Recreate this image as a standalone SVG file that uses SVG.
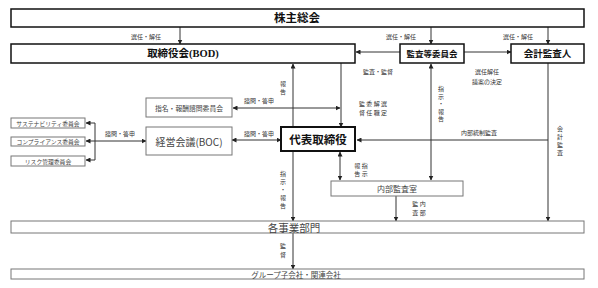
<svg xmlns="http://www.w3.org/2000/svg" width="598" height="288" viewBox="0 0 598 288">
<defs>
<marker id="ah" viewBox="0 0 10 10" refX="9" refY="5" markerWidth="5" markerHeight="5" orient="auto-start-reverse" markerUnits="userSpaceOnUse">
<path d="M0,0 L10,5 L0,10 Z" fill="#222"/>
</marker>
<style>
text{font-family:"Noto Sans CJK JP","Noto Sans",sans-serif;}
.main{fill:#fff;stroke:#111;stroke-width:1.5;}
.rep{fill:#fff;stroke:#111;stroke-width:2;}
.sub{fill:#fff;stroke:#777;stroke-width:1;}
.tb{font-family:"Liberation Serif","Noto Sans CJK JP",serif;font-weight:bold;fill:#111;text-anchor:middle;dominant-baseline:central;}
.tg{fill:#444;text-anchor:middle;dominant-baseline:central;}
.lb{font-size:6px;fill:#333;text-anchor:middle;dominant-baseline:central;}
.c{fill:none;stroke:#333;stroke-width:1;}
.e{marker-end:url(#ah);}
.b{marker-start:url(#ah);marker-end:url(#ah);}
</style>
</defs>
<rect width="598" height="288" fill="#fff"/>

<g id="connectors">
<path class="c e" d="M180,27 V44"/>
<path class="c e" d="M431,27 V44"/>
<path class="c e" d="M548,27 V44"/>
<path class="c e" d="M400,52 H356"/>
<path class="c e" d="M464,52 H511"/>
<path class="c e" d="M341,63 V127"/>
<path class="c e" d="M293,127 V64"/>
<path class="c b" d="M233,108 H340"/>
<path class="c b" d="M232,140 H281"/>
<path class="c b" d="M86,141 H146"/>
<path class="c" d="M95,123 V160"/>
<path class="c e" d="M95,123 H86"/>
<path class="c e" d="M95,160 H86"/>
<path class="c e" d="M293,152 V221"/>
<path class="c b" d="M340,152 V180"/>
<path class="c e" d="M396,196 V221"/>
<path class="c b" d="M431,64 V180"/>
<path class="c e" d="M548,63 V221"/>
<path class="c e" d="M548,140 H357"/>
<path class="c e" d="M293,233 V269"/>

<text class="lb" x="146" y="36">選任・解任</text>
<text class="lb" x="401" y="36">選任・解任</text>
<text class="lb" x="518" y="36">選任・解任</text>
<text class="lb" x="378" y="71">監査・監督</text>
<text class="lb" x="487" y="71">選任解任</text>
<text class="lb" x="487" y="81">議案の決定</text>
<text class="lb"><tspan x="283" y="83">報</tspan><tspan x="283" y="91">告</tspan></text>
<text class="lb" x="259" y="100">諮問・答申</text>
<text class="lb" x="259" y="133">諮問・答申</text>
<text class="lb" x="120" y="133">諮問・答申</text>
<text class="lb" x="373" y="103">監 委 解 選</text>
<text class="lb" x="373" y="112">督 任 職 定</text>
<text class="lb"><tspan x="441" y="88">指</tspan><tspan x="441" y="95.5">示</tspan><tspan x="441" y="103">・</tspan><tspan x="441" y="110.5">報</tspan><tspan x="441" y="118">告</tspan></text>
<text class="lb" x="479" y="132">内部統制監査</text>
<text class="lb"><tspan x="560" y="128">会</tspan><tspan x="560" y="136">計</tspan><tspan x="560" y="144">監</tspan><tspan x="560" y="152">査</tspan></text>
<text class="lb"><tspan x="283" y="173">指</tspan><tspan x="283" y="181">示</tspan><tspan x="283" y="189">・</tspan><tspan x="283" y="197">報</tspan><tspan x="283" y="205">告</tspan></text>
<text class="lb" x="361" y="165">報 指</text>
<text class="lb" x="361" y="173">告 示</text>
<text class="lb" x="419" y="203">監 内</text>
<text class="lb" x="419" y="212">査 部</text>
<text class="lb"><tspan x="283" y="245">監</tspan><tspan x="283" y="254">督</tspan></text>
</g>

<g id="shareholders">
<rect class="main" x="11" y="9" width="573" height="18"/>
<text class="tb" x="297" y="18" font-size="11.5">株主総会</text>
</g>
<g id="bod">
<rect class="main" x="11" y="44" width="344" height="19"/>
<text class="tb" x="183" y="53.5" font-size="10.5">取締役会(BOD)</text>
</g>
<g id="audit-committee">
<rect class="main" x="400" y="44" width="64" height="19"/>
<text class="tb" x="432" y="53.5" font-size="8.5">監査等委員会</text>
</g>
<g id="accounting-auditor">
<rect class="main" x="511" y="44" width="73" height="19"/>
<text class="tb" x="547.5" y="53.5" font-size="9.5">会計監査人</text>
</g>
<g id="nomination-committee">
<rect class="sub" x="146" y="98" width="86" height="19"/>
<text class="tg" x="189" y="107.5" font-size="6.8">指名・報酬諮問委員会</text>
</g>
<g id="boc">
<rect class="sub" x="146" y="127" width="86" height="28"/>
<text class="tg" x="189" y="141" font-size="10">経営会議(BOC)</text>
</g>
<g id="ceo">
<rect class="rep" x="281" y="127" width="74" height="24"/>
<text class="tb" x="318" y="139.5" font-size="11.5">代表取締役</text>
</g>
<g id="sustainability">
<rect class="sub" x="11" y="118" width="74" height="10"/>
<text class="tg" x="48" y="123" font-size="5.8">サステナビリティ委員会</text>
</g>
<g id="compliance">
<rect class="sub" x="11" y="137" width="74" height="9"/>
<text class="tg" x="48" y="141.5" font-size="5.8">コンプライアンス委員会</text>
</g>
<g id="risk">
<rect class="sub" x="11" y="156" width="74" height="10"/>
<text class="tg" x="48" y="161" font-size="5.8">リスク管理委員会</text>
</g>
<g id="internal-audit">
<rect class="sub" x="331" y="181" width="132" height="15"/>
<text class="tg" x="397" y="188.5" font-size="8">内部監査室</text>
</g>
<g id="business-divisions">
<rect class="sub" x="11" y="221" width="573" height="12"/>
<text class="tg" x="294" y="227" font-size="10.5">各事業部門</text>
</g>
<g id="group-companies">
<rect class="sub" x="11" y="269" width="573" height="10"/>
<text class="tg" x="296" y="274" font-size="7.5">グループ子会社・関連会社</text>
</g>
</svg>
